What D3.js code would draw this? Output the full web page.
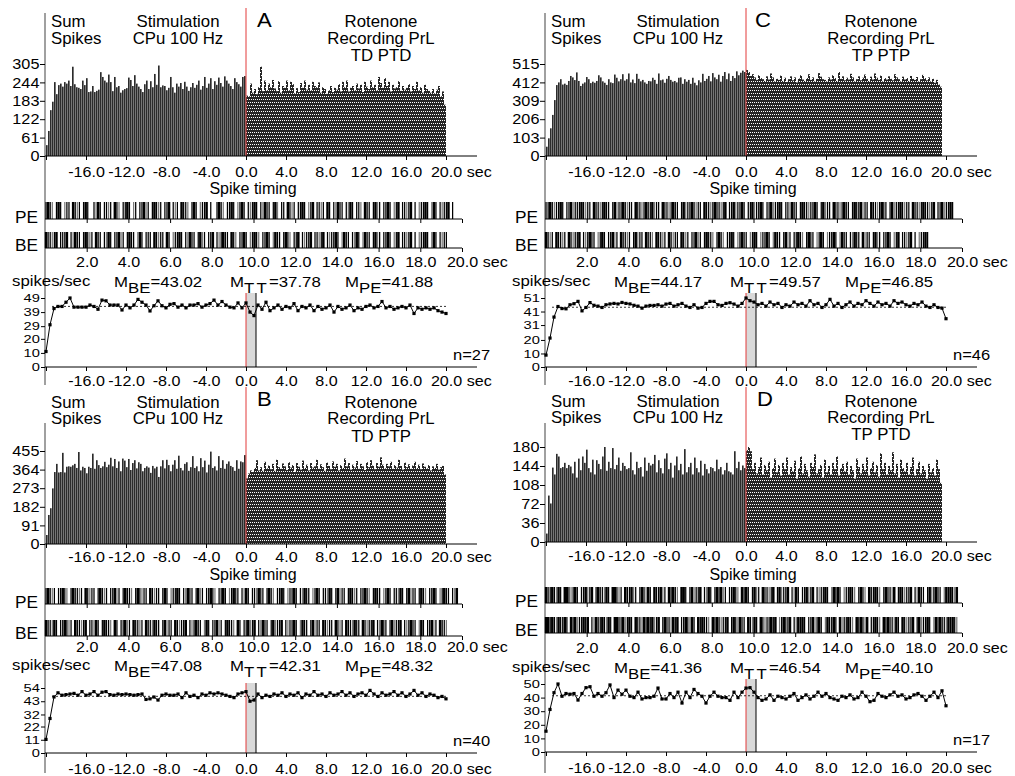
<!DOCTYPE html>
<html><head><meta charset="utf-8">
<script src="https://cdn.jsdelivr.net/npm/d3@7"></script>
<style>body{margin:0;background:#fff} svg{display:block;font-family:"Liberation Sans",Arial,sans-serif}</style>
</head><body><svg id="c" width="1015" height="776"></svg>
<script>
// ---------------- DATA ----------------
// histogram bins: 0.2 s, from -20 s to +20 s (200 bins)
const histA = [36,83,152,180,245,205,235,240,230,245,240,250,232,296,238,228,226,222,250,235,
258,212,214,232,212,216,220,278,262,250,244,270,245,215,262,228,232,210,218,222,
225,260,252,232,268,240,230,222,212,238,250,222,248,228,272,236,300,228,234,232,
218,226,262,228,210,240,230,242,222,246,230,216,228,242,226,236,250,220,232,262,
226,240,258,222,248,236,260,242,230,264,250,240,232,222,258,245,238,230,262,265,
200,198,240,210,222,205,228,296,215,250,218,240,228,252,224,215,248,210,232,226,
250,218,246,238,208,225,212,242,226,250,220,236,218,246,232,228,244,210,228,222,
206,218,232,212,226,220,238,214,246,228,250,214,226,232,218,240,224,236,212,246,
230,222,250,228,236,218,262,242,226,258,232,246,214,236,224,228,248,216,232,220,
226,238,214,232,222,246,218,228,210,236,222,216,210,222,208,220,232,198,214,170];
const histC = [52,99,155,230,313,397,412,430,400,405,398,420,448,440,425,468,420,392,405,412,
442,430,408,416,410,420,452,440,418,410,398,430,412,408,456,438,418,430,458,422,
430,462,412,428,408,460,432,418,426,412,404,420,418,438,426,404,462,424,428,410,
432,448,426,416,420,412,438,440,404,430,416,426,404,438,410,396,424,412,460,420,
432,448,418,464,440,430,455,416,448,470,430,462,420,448,436,474,452,466,478,470,
482,470,448,458,440,426,452,436,430,420,446,428,462,440,418,432,426,450,420,438,
414,430,446,424,440,412,434,452,428,420,436,458,426,440,418,432,464,444,430,426,
418,440,428,452,436,420,470,432,446,424,438,428,460,440,418,430,446,424,438,456,
432,420,444,428,462,438,426,450,418,436,428,446,432,424,458,440,430,418,444,428,
436,420,448,432,426,442,418,430,454,436,424,440,418,432,410,426,400,388,0,0];
const histB = [44,142,175,272,352,392,350,352,446,350,378,380,378,385,392,372,450,360,378,372,
346,378,372,442,368,410,386,372,380,402,376,388,422,380,416,372,404,356,418,408,
376,416,362,396,410,370,400,392,356,372,380,374,348,382,370,378,328,380,410,370,
412,386,356,388,410,368,432,372,360,392,400,358,376,430,372,380,356,420,376,408,
350,388,452,372,380,360,430,372,410,368,392,404,382,376,358,410,368,404,400,435,
321,345,360,352,372,410,360,376,358,402,370,384,366,392,358,412,376,368,394,380,
362,400,374,386,352,396,378,364,408,372,388,360,396,374,380,412,368,390,376,358,
398,382,366,404,378,392,360,386,372,418,380,396,364,388,374,406,368,392,380,362,
400,376,410,384,366,396,378,424,388,370,392,380,402,368,386,374,412,382,364,398,
376,390,368,384,402,372,388,366,394,378,370,386,360,380,372,392,364,376,382,340];
const histD = [16,88,73,141,128,167,162,140,142,150,140,146,143,130,152,122,158,136,162,150,
175,140,132,156,128,155,148,138,162,180,135,152,140,178,138,146,160,135,150,144,
138,140,170,136,128,152,140,142,124,160,135,150,145,148,165,132,155,140,130,158,
168,138,150,122,145,162,136,148,128,176,132,142,150,128,160,140,132,154,126,148,
138,130,142,140,134,156,138,142,128,136,150,134,132,128,172,140,152,136,145,140,
174,180,172,138,150,130,142,160,128,146,136,152,122,140,158,132,146,126,150,138,
160,128,142,134,154,120,140,162,130,148,136,124,150,142,166,130,138,146,122,156,
132,144,128,150,138,162,126,140,148,134,152,128,144,136,120,158,142,130,148,136,
160,126,140,152,132,146,124,168,138,150,128,144,136,170,130,148,122,156,140,134,
150,128,142,160,126,138,152,130,144,136,120,148,132,140,126,156,138,112,0,0];

const histTicksA = [0,61,122,183,244,305];
const histTicksB = [0,91,182,273,364,455];
const histTicksC = [0,103,206,309,412,515];
const histTicksD = [0,36,72,108,144,180];

// firing rate (spikes/sec), points every 0.4 s from -20 to +20 s
const lineA = [11,30,41.5,43,43,46,49,42.5,42.5,42.5,42.5,44,43,41,47.5,47,44,44,44,40.5,
44,42,44,48,46,44,39.8,43.5,47,43.5,42,44.5,45,42.5,44,42,44,44,45,42.5,
44,45,47.5,44,46.5,44,42.5,42,45.5,42,45.5,
39,36.5,44,41,46,40,42,44,41,43,42,45,40,43,42,44,40,43,41,42,
44,39,43,41,42,44,40,42,41,43,44,42,43,46.5,42,43,41,42,43,42,
44,38,42,41,42,41,42,40,39,38];
const lineC = [8.8,21.4,36.9,44.7,43.2,43,46,46.8,48.5,41.5,44,47.6,45.6,45,44,46,46.6,47,46.6,47.7,
47,46.6,45.6,45,43.5,45,45.5,45.5,46,45,46.5,47,45,46,47,45,44,46,43.5,44,
47,48.5,48.5,46,45.5,47,47.5,46.5,45,47,51,
49,48,46,47,45,48,46,47,44,46,45,48,46,47,45,49,46,47,44,46,
50,45,47,44,46,48,45,47,46,49,47,45,48,46,47,45,49,47,48,46,
45,47,46,48,45,44,46,44,43.5,35.7];
const lineB = [11.3,28.7,46.6,50,48,48.5,49,49.5,48,51,48,49,51,48,50.5,51,48.5,48,49,48.5,
49,48.5,48,48.5,49,44.5,45,46.5,44,48,49,48,48,49,46,50,47,48,46,49,
48,50,49,50,49,48,47,46,49,50,51,
43,44,49,46,48,47,49,48,50,47,49,48,50,46,49,48,51,48,49,47,
50,48,49,51,48,50,47,49,50,48,52,49,47,50,48,49,51,48,50,47,
49,52,48,50,47,49,48,46,47,45];
const lineD = [15.3,31.3,43.6,50,41,43,42.5,43,38.2,43,47.3,48,41,43,41,43.6,49.3,40,45.5,42.5,
45.5,41,40,44,39,40,40,41,47,39,39,43,40,44,36,44,40,46,43,41,
36,41,44,41,40,40,38,44,40,44,47,
47.3,44,40,38,39,42,38,41,40,39,41,43,38,40,42,39,41,44,41,43,
40,39,38,41,40,42,39,40,44,41,37,38,43,41,40,42,44,41,42,39,
40,42,43,41,38,41,44,40,45,34];

const lineTicksA = [0,10,20,29,39,49];
const lineTicksB = [0,11,22,32,43,54];
const lineTicksC = [0,10,20,31,41,51];
const lineTicksD = [0,10,20,30,40,50];

const meansA = {BE:"43.02", TT:"37.78", PE:"41.88", n:27};
const meansB = {BE:"47.08", TT:"42.31", PE:"48.32", n:40};
const meansC = {BE:"44.17", TT:"49.57", PE:"46.85", n:46};
const meansD = {BE:"41.36", TT:"46.54", PE:"40.10", n:17};

// spike rasters, 0.1 s bins from 0 to 20 s ('|' spike, '!' faint spike, '#' burst, '.' none)
const rasterA_PE = "|#|!.|#|.!||.#|!|.|#|..|!#|.||!|.#|!.||#|.!|.||#!|" + ".|#|!|.||#.|!|.#||!.|#|.!||#.|..|#|!.||#|.!|#|.|!|" + "#|.|!#||.|#!.||.#|!|.||#|.!|#.||!|.#|.|!#||.|!#|.|" + "|!.#||.|#!|.||#|.!|#.||!|#.|.!||#|.!#|.|!||#.|....";
const rasterA_BE = "#||!|#.|||#.|!#||.|#|!|.#||.|!#|.||#!|.|#||.!#|.||" + "|.#|!||.#|.!||#|.|!#||.|#!|.||#.|!|#||.#|!.||#|.!|" + "#|!.||#|.!#||.|#|!.||#.|!||#.||!|#.|!||#|.!#||.|!#" + "|.!#||.|#!|.||#|.!|#.||!|#.|.!||#|.!#|.|!||......";
const rasterB_PE = "|#|!|.||#|!.|#||!|.#|!||.|#|!|.||#!|.|#||!.|#|!||." + "#|!||.|#|.!||#|.|!#||.|#!|.||#|!.||#|.!|#||.|!#|.|" + "|!#||.|#|!.||#|.!||#|.|!#||.!|#|.||!#|.|#!||.|#|!|" + ".||#|!.|#||.!|#|.||!#|.|#!||.|#|!.||#|.!|#||.|!#..";
const rasterB_BE = "#||!#|.||#|!|.#||!|#.||!#|.|#||!.#|.||#!|.#||!|.#|" + "|!#||.|#!||.#|!||#.|!|#||.!#|.||#!|.|#||!.#|.||#!|" + "#.|!#||.|#!||#.|!||#|.!#||.|#!||.#|!||.#|!|.#||!#|" + "|.#|!||#.|!#||.|#!||#.|!|#||.!#|.||#!|.#||!......";
const rasterC_PE = "||#|!||#|.||#!|||#|!||.#||!|#||.|#!||#|!||.#||!|#|" + "|#!||.#||!|#||.|#!||#|!||.#||!|#||!|#.||#!||#|.||#" + "!||#|.||#!||#|.||!#||.|#||!||#|.|#!||.#||!|#||.|#|" + "|#!||.#||!|#||.|#!||#|!||.#||!|#||!|#.||#!||#|...";
const rasterC_BE = "#|!|.#||!|.#|!||#.|!|#||.!|#|.||#!|.#||!|.|#!||.#|" + "|!.#||!|.#|!||.#|!|.||#!|.|#||!.|#|!.||#|.!|#||.!|" + "#|.!||#|.!#||.|#!|.||#|!.|#||.!|#|.!||#|.!#||.|!#|" + "|.#!||.|#!|.||#|.!|#.||!|#.|.!||#|..............";
const rasterD_PE = "#||#|!#|.##|!|#|.||#!|#.|#||!#|.##|!|.#||#!|.|#|!#" + "|.#||#!|.#|#|!.##|.|#!||#.|!#|.|#|#!|.||#|!.#|#|.|" + "#!|.#||!|#.|#!||#.|!#|.||#!|#.|!||#|.!#|#|.!||#|!." + "|#|!.#||#|!.|#||!#.|#|!||#.|!#||.|#!|#||.!#|#|!#..";
const rasterD_BE = "##|#|!#||#|.#|#!||#|#.|!#||#|!#|.##||#!|#|.#||!#|#" + "|#!|#.|#||!#|#.||#|!#|.#|#||!.#|#|!||#.|#|!#||.#|!" + "#|.#|!||#|#.!|#||#.|!#|#|.||#!|#|.!#||#|.#!||#|!.#" + "|#|!#.||#|!.#|#||!#|.#|!||#.|#!||#|.!#|#||!#|#|!..";

const histXTicks = [-20,-16,-12,-8,-4,0,4,8,12,16,20];
const rasterTicks = [2,4,6,8,10,12,14,16,18,20];

// ---------------- LAYOUT ----------------
const layTop = {titleY:[21,38,55], letterY:20, redTop:8, axisTop:13, axisBot:385, histTop:64, histBase:156, histLblY:172, spikeY:188, peTop:202, peBase:219, beTop:232, beBase:248, rLblY:262, statsY:281, lineTop:298, lineBase:367, lineLblY:381};
const layB = {titleY:[402,418,436], letterY:399, redTop:387, axisTop:423, axisBot:773, histTop:451, histBase:544, histLblY:557, spikeY:574, peTop:588, peBase:604, beTop:620, beBase:636, rLblY:647, statsY:665, lineTop:688, lineBase:753, lineLblY:769};
const layD = {titleY:[401,417,434], letterY:399, redTop:387, axisTop:423, axisBot:773, histTop:447, histBase:542, histLblY:556, spikeY:574, peTop:587, peBase:603, beTop:617, beBase:633, rLblY:648, statsY:667, lineTop:684, lineBase:752, lineLblY:768};

const panels = [
 {letter:"A", ox:0, lx:257, L:layTop, cond:"TD PTD", hist:histA, hT:histTicksA, line:lineA, lT:lineTicksA, pe:rasterA_PE, be:rasterA_BE, m:meansA},
 {letter:"C", ox:500, lx:255, L:layTop, cond:"TP PTP", hist:histC, hT:histTicksC, line:lineC, lT:lineTicksC, pe:rasterC_PE, be:rasterC_BE, m:meansC},
 {letter:"B", ox:0, lx:257, L:layB, cond:"TD PTP", hist:histB, hT:histTicksB, line:lineB, lT:lineTicksB, pe:rasterB_PE, be:rasterB_BE, m:meansB},
 {letter:"D", ox:500, lx:257, L:layD, cond:"TP PTD", hist:histD, hT:histTicksD, line:lineD, lT:lineTicksD, pe:rasterD_PE, be:rasterD_BE, m:meansD}
];

// ---------------- DRAW ----------------
const svg = d3.select("#c");
const defs = svg.append("defs");
const pat = defs.append("pattern").attr("id","dots").attr("patternUnits","userSpaceOnUse").attr("width",2).attr("height",6);
pat.append("rect").attr("width",2).attr("height",6).attr("fill","#262626");
pat.append("rect").attr("x",0).attr("y",0).attr("width",1).attr("height",1).attr("fill","#fff");
pat.append("rect").attr("x",1).attr("y",3).attr("width",1).attr("height",1).attr("fill","#fff");

function T(g, x, y, str, o = {}) {
  const t = g.append("text")
    .attr("transform", `translate(${x},${y}) scale(${o.sx || 1},1)`)
    .attr("text-anchor", o.anchor || "start")
    .attr("dominant-baseline", "central")
    .style("font-size", (o.size || 16) + "px")
    .attr("fill", "#000");
  if (str != null) t.text(str);
  return t;
}
function styleAxis(sel, size, sx) {
  sel.select(".domain").remove();
  sel.attr("font-family", null).attr("font-size", null);
  sel.selectAll(".tick line").attr("stroke", "#000");
  sel.selectAll(".tick text").style("font-size", size + "px").attr("fill", "#000")
     .attr("transform", `scale(${sx},1)`);
}
function secLabel(sel) {
  sel.selectAll(".tick").filter(d => d === 20).select("text")
    .text("20.0 sec").attr("text-anchor", "start").attr("x", -13.6);
}

const tS = {size:16, sx:1.05};
const tick = {size:14, sx:1.15};

panels.forEach(p => {
  const L = p.L, ox = p.ox;
  const g = svg.append("g");
  const xH = d3.scaleLinear([-20, 20], [ox + 46, ox + 446]);
  const yH = d3.scaleLinear([0, p.hT[p.hT.length - 1]], [L.histBase, L.histTop]);
  const xR = d3.scaleLinear([0, 20], [ox + 45, ox + 462]);
  const yL = d3.scaleLinear([0, p.lT[p.lT.length - 1]], [L.lineBase, L.lineTop]);

  // titles
  T(g, ox + 51, L.titleY[0], "Sum", tS);
  T(g, ox + 51, L.titleY[1], "Spikes", tS);
  T(g, ox + 178, L.titleY[0], "Stimulation", {...tS, anchor:"middle"});
  T(g, ox + 178, L.titleY[1], "CPu 100 Hz", {...tS, anchor:"middle"});
  T(g, ox + 381, L.titleY[0], "Rotenone", {...tS, anchor:"middle"});
  T(g, ox + 381, L.titleY[1], "Recording PrL", {...tS, anchor:"middle"});
  T(g, ox + 381, L.titleY[2], p.cond, {...tS, anchor:"middle"});
  T(g, ox + p.lx, L.letterY, p.letter, {size:21, sx:1.05});

  // long left axis line
  g.append("line").attr("x1", ox + 45).attr("x2", ox + 45).attr("y1", L.axisTop).attr("y2", L.axisBot)
    .attr("stroke", "#808080").attr("stroke-width", 1.5);

  // histogram bars
  g.append("g").selectAll("rect").data(p.hist).join("rect")
    .attr("x", (d, i) => xH(-20 + 0.2 * i))
    .attr("width", (d, i) => i < 100 ? 1.65 : 2)
    .attr("y", d => yH(d))
    .attr("height", d => L.histBase - yH(d))
    .attr("fill", (d, i) => i < 100 ? "#2b2b2b" : "url(#dots)");

  g.append("line").attr("x1", xH(0)).attr("x2", xH(0)).attr("y1", L.redTop).attr("y2", L.histBase)
    .attr("stroke", "#e23a3a").attr("stroke-width", 1);

  // histogram axes
  g.append("line").attr("x1", ox + 45).attr("x2", ox + 477).attr("y1", L.histBase).attr("y2", L.histBase).attr("stroke", "#000");
  const ayH = g.append("g").attr("transform", `translate(${ox + 45},0)`)
    .call(d3.axisLeft(yH).tickValues(p.hT).tickSize(5).tickPadding(0));
  styleAxis(ayH, 14.5, 1.12);
  const axH = g.append("g").attr("transform", `translate(0,${L.histBase})`)
    .call(d3.axisBottom(xH).tickValues(histXTicks).tickSize(4).tickPadding(L.histLblY - L.histBase - 9)
      .tickFormat(d => d === -20 ? "" : d.toFixed(1)));
  styleAxis(axH, tick.size, tick.sx);
  secLabel(axH);

  T(g, ox + 253, L.spikeY, "Spike timing", {size:16, anchor:"middle"});

  // rasters
  const rows = [[p.pe, L.peTop, L.peBase, "PE"], [p.be, L.beTop, L.beBase, "BE"]];
  rows.forEach(([s, top, base, lab]) => {
    const marks = s.split("").map((c, i) => ({c, t: i * 0.1 + 0.05})).filter(d => d.c !== ".");
    g.append("g").selectAll("line").data(marks).join("line")
      .attr("x1", d => xR(d.t)).attr("x2", d => xR(d.t))
      .attr("y1", top).attr("y2", base)
      .attr("stroke", d => d.c === "!" ? "#7a7a7a" : "#000")
      .attr("stroke-width", d => d.c === "#" ? 2.5 : 1.25);
    g.append("line").attr("x1", ox + 45).attr("x2", ox + 462).attr("y1", base).attr("y2", base).attr("stroke", "#000");
    const ar = g.append("g").attr("transform", `translate(0,${base})`)
      .call(d3.axisBottom(xR).tickValues(rasterTicks).tickSize(4)
        .tickPadding(L.rLblY - L.beBase - 9)
        .tickFormat(d => lab === "BE" ? d.toFixed(1) : ""));
    styleAxis(ar, tick.size, tick.sx);
    if (lab === "BE") secLabel(ar);
    T(g, ox + 38, lab === "PE" ? base - 1 : base - 2, lab, {size:16, sx:1.08, anchor:"end"});
  });

  // stats line
  T(g, ox + 12, L.statsY, "spikes/sec", {size:15, sx:1.12});
  [["BE", 114, p.m.BE], ["TT", 230, p.m.TT], ["PE", 345, p.m.PE]].forEach(([k, x, v]) => {
    const t = T(g, ox + x, L.statsY, null, {size:15, sx:1.12});
    t.append("tspan").text("M");
    t.append("tspan").attr("dy", 6).attr("letter-spacing", k === "TT" ? 2 : 0).text(k);
    t.append("tspan").attr("dy", -6).attr("letter-spacing", 0).text("=" + v);
  });

  // firing rate chart
  const top = L.lineTop - 5;
  g.append("rect").attr("x", xH(0)).attr("width", xH(1) - xH(0)).attr("y", top).attr("height", L.lineBase - top)
    .attr("fill", "#d9d9d9");
  g.append("line").attr("x1", xH(1)).attr("x2", xH(1)).attr("y1", top).attr("y2", L.lineBase).attr("stroke", "#000");
  g.append("line").attr("x1", xH(0)).attr("x2", xH(0)).attr("y1", top).attr("y2", L.lineBase).attr("stroke", "#e23a3a");
  g.append("line").attr("x1", xH(-19.4)).attr("x2", xH(20.2)).attr("y1", yL(+p.m.BE)).attr("y2", yL(+p.m.BE))
    .attr("stroke", "#000").attr("stroke-width", 0.8).attr("stroke-dasharray", "2,2");
  const pts = p.line.map((v, i) => ({t: -20 + 0.4 * i, v}));
  g.append("path").datum(pts).attr("fill", "none").attr("stroke", "#000").attr("stroke-width", 1)
    .attr("d", d3.line().x(d => xH(d.t)).y(d => yL(d.v)));
  g.append("g").selectAll("rect").data(pts).join("rect")
    .attr("x", d => xH(d.t) - 1.6).attr("y", d => yL(d.v) - 1.6).attr("width", 3.2).attr("height", 3.2).attr("fill", "#000");

  g.append("line").attr("x1", ox + 45).attr("x2", ox + 477).attr("y1", L.lineBase).attr("y2", L.lineBase).attr("stroke", "#000");
  const ayL = g.append("g").attr("transform", `translate(${ox + 45},0)`)
    .call(d3.axisLeft(yL).tickValues(p.lT).tickSize(4).tickPadding(0));
  styleAxis(ayL, 11.3, 1.3);
  const axL = g.append("g").attr("transform", `translate(0,${L.lineBase})`)
    .call(d3.axisBottom(xH).tickValues(histXTicks).tickSize(4).tickPadding(L.lineLblY - L.lineBase - 9)
      .tickFormat(d => d === -20 ? "" : d.toFixed(1)));
  styleAxis(axL, tick.size, tick.sx);
  secLabel(axL);

  T(g, ox + 453, L.lineBase - 12, "n=" + p.m.n, {size:15, sx:1.1});
});
</script></body></html>
